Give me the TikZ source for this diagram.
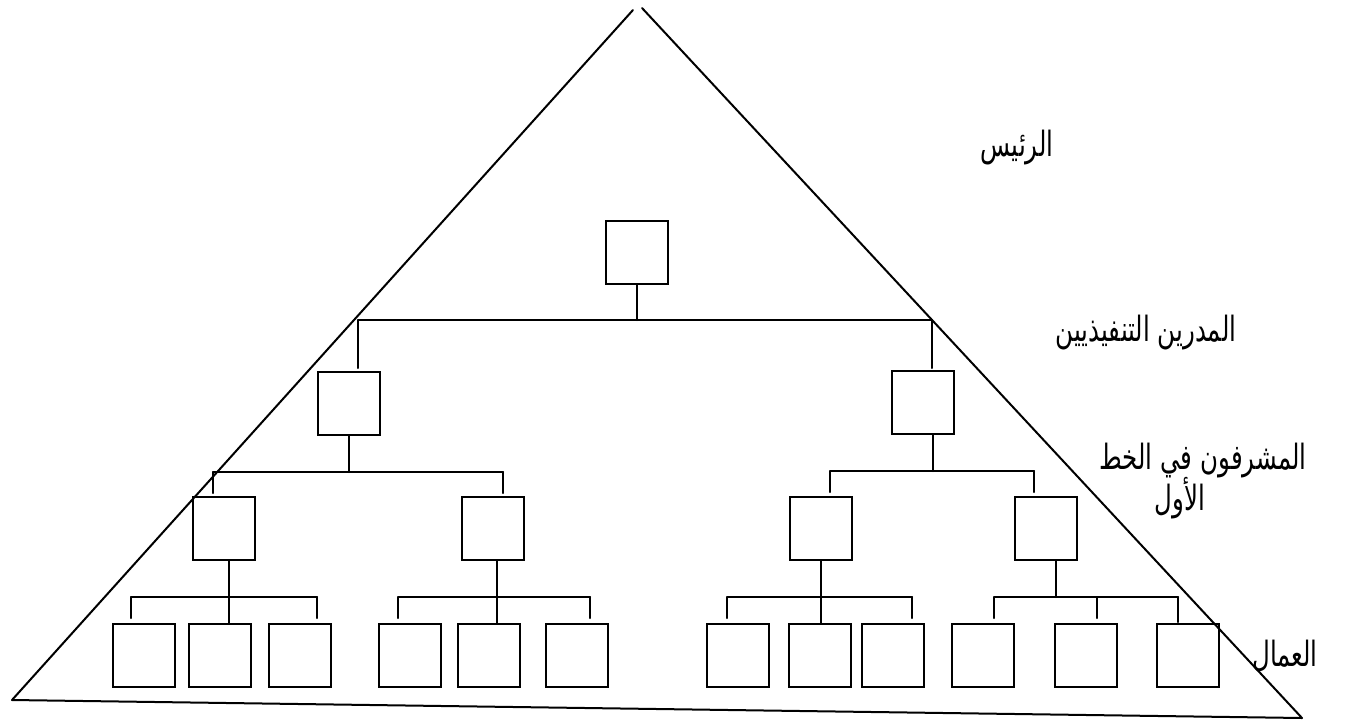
\documentclass[tikz,border=0pt]{standalone}
\usepackage{fontspec}
\usepackage{graphicx}
\newfontfamily\arabicfont[Script=Arabic]{DejaVu Sans}
\TeXXeTstate=1
\newcommand{\tallar}[1]{\scalebox{1.02}[1.45]{\beginR #1\endR}}
\begin{document}
\begin{tikzpicture}[x=1pt,y=-1pt,
  ln/.style={line width=2pt, line cap=round},
  orgbox/.style={draw, line width=2pt, minimum width=62pt, minimum height=63pt, inner sep=0pt},
  lbl/.style={font=\arabicfont\fontsize{24}{28}\selectfont, inner sep=0pt}]
\useasboundingbox (0,0) rectangle (1350,721);

% pyramid outline
\coordinate (bl) at (12,700);
\coordinate (apL) at (633,10);
\coordinate (apR) at (642,8);
\coordinate (br) at (1302,718);
\draw[ln] (bl) -- (apL);
\draw[ln] (apR) -- (br);
\draw[ln] (bl) -- (br);

% boxes
\node[orgbox] (top) at (636.5,252.5) {};
\node[orgbox] (mA) at (348.5,403) {};
\node[orgbox] (mB) at (922.5,402.5) {};
\node[orgbox] (sA1) at (223.5,528) {};
\node[orgbox] (sA2) at (492.5,528) {};
\node[orgbox] (sB1) at (820.5,528) {};
\node[orgbox] (sB2) at (1046,528) {};
\foreach \n/\x in {w1/143.5,w2/219.5,w3/300,w4/409.5,w5/489,w6/577,
                   w7/738,w8/820,w9/893,w10/983,w11/1085.5,w12/1188}
  \node[orgbox] (\n) at (\x,655) {};

% level 1 connectors
\coordinate (t1) at (358,320);
\coordinate (t2) at (932,320);
\draw[ln] (top.south) -- (top.south |- t1);
\draw[ln] (t1) -- (t2);
\draw[ln] (t1) -- ++(0,48);
\draw[ln] (t2) -- ++(0,48);

% level 2 connectors
\coordinate (a1) at (213,472);
\coordinate (a2) at (503,472);
\draw[ln] (mA.south) -- (mA.south |- a1);
\draw[ln] (a1) -- (a2);
\draw[ln] (a1) -- ++(0,21);
\draw[ln] (a2) -- ++(0,21);
\coordinate (b1) at (830,471);
\coordinate (b2) at (1034,471);
\coordinate (mBs) at ([xshift=10pt]mB.south);
\draw[ln] (mBs) -- (mBs |- b1);
\draw[ln] (b1) -- (b2);
\draw[ln] (b1) -- ++(0,21);
\draw[ln] (b2) -- ++(0,21);

% level 3 connectors
\coordinate (c1) at (131,597);
\coordinate (c2) at (317,597);
\draw[ln] ([xshift=5.5pt]sA1.south) -- ([xshift=5.5pt]sA1.south |- w2.north);
\draw[ln] (c1) -- (c2);
\draw[ln] (c1) -- ++(0,21);
\draw[ln] (c2) -- ++(0,21);

\coordinate (d1) at (398,597);
\coordinate (d2) at (590,597);
\draw[ln] ([xshift=4.5pt]sA2.south) -- ([xshift=4.5pt]sA2.south |- w5.north);
\draw[ln] (d1) -- (d2);
\draw[ln] (d1) -- ++(0,21);
\draw[ln] (d2) -- ++(0,21);

\coordinate (e1) at (727,597);
\coordinate (e2) at (912,597);
\draw[ln] (sB1.south) -- (sB1.south |- w8.north);
\draw[ln] (e1) -- (e2);
\draw[ln] (e1) -- ++(0,21);
\draw[ln] (e2) -- ++(0,21);

\coordinate (f1) at (994,597);
\coordinate (f2) at (1178,597);
\coordinate (f3) at (1097,597);
\draw[ln] ([xshift=10pt]sB2.south) -- ([xshift=10pt]sB2.south |- f1);
\draw[ln] (f1) -- (f2);
\draw[ln] (f1) -- ++(0,21);
\draw[ln] (f3) -- ++(0,21);
\draw[ln] (f2) -- ++(0,25);

% level labels
\node[lbl] (lpres) at (1017,148) {\tallar{الرئيس}};
\node[lbl] (lexec) at (1146,333) {\tallar{المدرين التنفيذيين}};
\node[lbl] (lsup1) at (1203,461) {\tallar{المشرفون في الخط}};
\node[lbl] (lsup2) at (1180,498) {\tallar{الأول}};
\node[lbl] (lwork) at (1285,656) {\tallar{العمال}};
\end{tikzpicture}
\end{document}
